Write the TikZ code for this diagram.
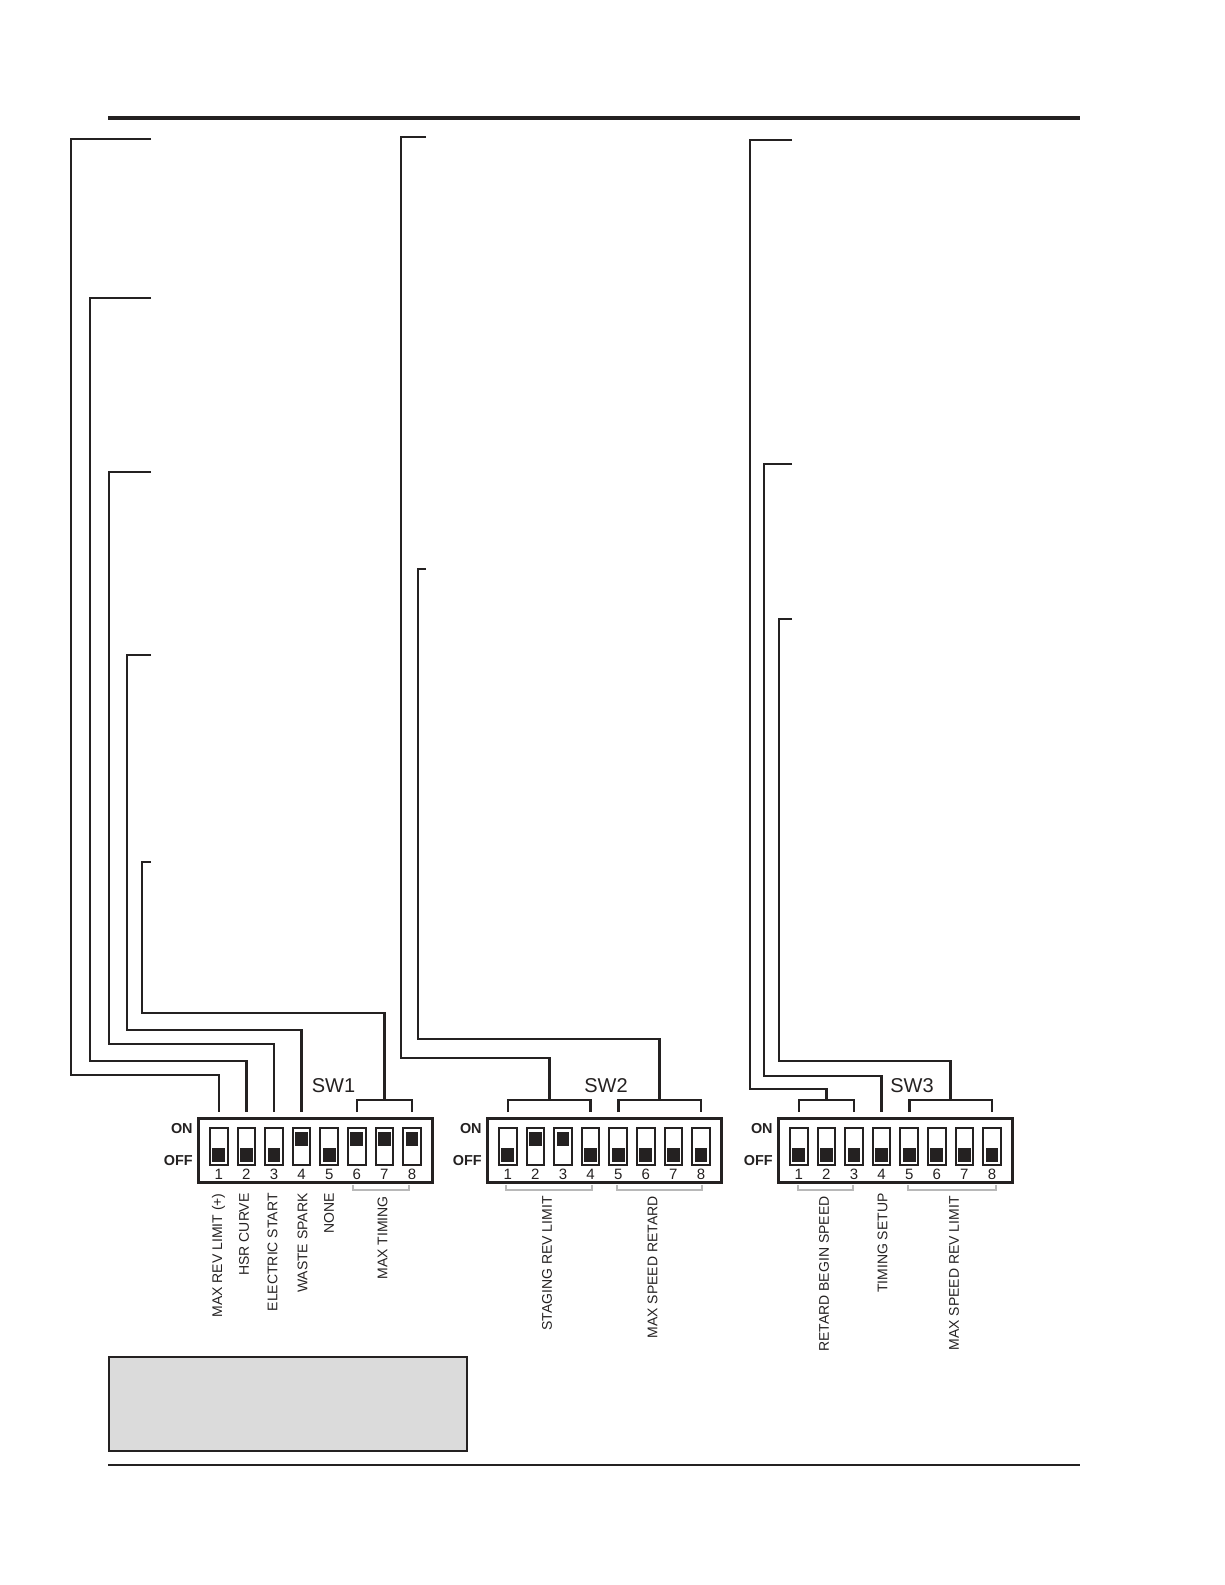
\documentclass[tikz,border=0pt]{standalone}
\usepackage{fontspec}
\setmainfont{Liberation Sans}
\definecolor{encre}{rgb}{0.14,0.13,0.13}
\definecolor{gris}{rgb}{0.86,0.86,0.86}
\definecolor{grismoyen}{rgb}{0.72,0.72,0.72}

\begin{document}
\begin{tikzpicture}[x=0.5pt, y=-0.5pt, line join=miter]
	\tikzstyle{lead}=[draw=encre, line width=1.3pt]
	\tikzstyle{dip}=[rectangle, draw=encre, line width=1.5pt, minimum width=117pt, minimum height=32pt, inner sep=0pt]
	\tikzstyle{slot}=[rectangle, draw=encre, line width=1pt, minimum width=8.75pt, minimum height=18.5pt, inner sep=0pt]
	\tikzstyle{swoff}=[slot, path picture={\fill[encre] ([xshift=-3.2pt,yshift=1.5pt]path picture bounding box.south) rectangle ++(6.4pt,7pt);}]
	\tikzstyle{swon}=[slot, path picture={\fill[encre] ([xshift=-3.2pt,yshift=-1.8pt]path picture bounding box.north) rectangle ++(6.4pt,-7pt);}]
	\tikzstyle{num}=[font=\fontsize{7.5}{8}\selectfont, inner sep=0pt, label distance=1.4pt, text=encre]
	\tikzstyle{lab}=[rotate=90, anchor=east, inner sep=0pt, font=\fontsize{7}{8}\selectfont, text=encre]
	\tikzstyle{onoff}=[anchor=east, inner sep=0pt, font=\fontsize{7.2}{8}\selectfont\bfseries, text=encre]
	\tikzstyle{swname}=[inner sep=0pt, font=\fontsize{10}{12}\selectfont, text=encre]
	\tikzstyle{under}=[draw=encre, line width=0.4pt, double=grismoyen, double distance=0.6pt]

	\useasboundingbox (0,0) rectangle (1225,1585);

	% CADRE
	\draw[encre, line width=2pt] (108,118) -- (1080,118);
	\draw[encre, line width=1.3pt] (108,1465) -- (1080,1465);
	\draw[encre, line width=1.4pt, fill=gris] (109,1357) rectangle (467,1451);

	% BOITIERS
	\node[dip] (D1) at (315.5,1150.5) {};
	\node[dip] (D2) at (604,1150.5) {};
	\node[dip] (D3) at (895,1150.5) {};
	\node[swname] (SW1) at (333.5,1086) {SW1};
	\node[swname] (SW2) at (606,1086) {SW2};
	\node[swname] (SW3) at (912,1086) {SW3};
	\node[onoff] (ON1) at (193,1129) {ON};
	\node[onoff] (OFF1) at (193,1161) {OFF};
	\node[onoff] (ON2) at (482,1129) {ON};
	\node[onoff] (OFF2) at (482,1161) {OFF};
	\node[onoff] (ON3) at (773,1129) {ON};
	\node[onoff] (OFF3) at (773,1161) {OFF};

	% INTERRUPTEURS SW1
	\node[swoff, label={[num]below:1}] (A1) at (218.8,1146.5) {};
	\node[swoff, label={[num]below:2}] (A2) at (246.4,1146.5) {};
	\node[swoff, label={[num]below:3}] (A3) at (274.0,1146.5) {};
	\node[swon, label={[num]below:4}] (A4) at (301.6,1146.5) {};
	\node[swoff, label={[num]below:5}] (A5) at (329.2,1146.5) {};
	\node[swon, label={[num]below:6}] (A6) at (356.8,1146.5) {};
	\node[swon, label={[num]below:7}] (A7) at (384.4,1146.5) {};
	\node[swon, label={[num]below:8}] (A8) at (412.0,1146.5) {};

	% INTERRUPTEURS SW2
	\node[swoff, label={[num]below:1}] (B1) at (507.8,1146.5) {};
	\node[swon, label={[num]below:2}] (B2) at (535.4,1146.5) {};
	\node[swon, label={[num]below:3}] (B3) at (563.0,1146.5) {};
	\node[swoff, label={[num]below:4}] (B4) at (590.6,1146.5) {};
	\node[swoff, label={[num]below:5}] (B5) at (618.2,1146.5) {};
	\node[swoff, label={[num]below:6}] (B6) at (645.8,1146.5) {};
	\node[swoff, label={[num]below:7}] (B7) at (673.4,1146.5) {};
	\node[swoff, label={[num]below:8}] (B8) at (701.0,1146.5) {};

	% INTERRUPTEURS SW3
	\node[swoff, label={[num]below:1}] (C1) at (798.8,1146.5) {};
	\node[swoff, label={[num]below:2}] (C2) at (826.4,1146.5) {};
	\node[swoff, label={[num]below:3}] (C3) at (854.0,1146.5) {};
	\node[swoff, label={[num]below:4}] (C4) at (881.6,1146.5) {};
	\node[swoff, label={[num]below:5}] (C5) at (909.2,1146.5) {};
	\node[swoff, label={[num]below:6}] (C6) at (936.8,1146.5) {};
	\node[swoff, label={[num]below:7}] (C7) at (964.4,1146.5) {};
	\node[swoff, label={[num]below:8}] (C8) at (992.0,1146.5) {};

	% ACCOLADES
	\coordinate (A7t) at (384.4,1100);
	\coordinate (B23t) at (549.2,1100);
	\coordinate (B67t) at (659.6,1100);
	\coordinate (C2t) at (826.4,1100);
	\coordinate (C67t) at (950.6,1100);
	\draw[lead] ([yshift=7.5pt]A6.north) |- (A7t) -| ([yshift=7.5pt]A8.north);
	\draw[lead] ([yshift=7.5pt]B1.north) |- (B23t) -| ([yshift=7.5pt]B4.north);
	\draw[lead] ([yshift=7.5pt]B5.north) |- (B67t) -| ([yshift=7.5pt]B8.north);
	\draw[lead] ([yshift=7.5pt]C1.north) |- (C2t) -| ([yshift=7.5pt]C3.north);
	\draw[lead] ([yshift=7.5pt]C5.north) |- (C67t) -| ([yshift=7.5pt]C8.north);

	\draw[under] (353,1185) |- (409,1190) -- (409,1185);
	\draw[under] (506,1185) |- (592,1190) -- (592,1185);
	\draw[under] (617,1185) |- (702,1190) -- (702,1185);
	\draw[under] (798,1185) |- (853,1190) -- (853,1185);
	\draw[under] (908,1185) |- (996,1190) -- (996,1185);

	% RENVOIS SW1
	\coordinate (T11) at (151,139);
	\coordinate (T12) at (151,298);
	\coordinate (T13) at (151,472);
	\coordinate (T14) at (151,655);
	\coordinate (T15) at (151,862);
	\draw[lead] (T11) -| (71,1075) -| ([yshift=7.5pt]A1.north);
	\draw[lead] (T12) -| (90,1061) -| ([yshift=7.5pt]A2.north);
	\draw[lead] (T13) -| (109,1044) -| ([yshift=7.5pt]A3.north);
	\draw[lead] (T14) -| (127,1030) -| ([yshift=7.5pt]A4.north);
	\draw[lead] (T15) -| (142,1013) -| (A7t);

	% RENVOIS SW2
	\coordinate (T21) at (426,137);
	\coordinate (T22) at (426,569);
	\draw[lead] (T21) -| (401,1058) -| (B23t);
	\draw[lead] (T22) -| (418,1039) -| (B67t);

	% RENVOIS SW3
	\coordinate (T31) at (792,140);
	\coordinate (T32) at (792,464);
	\coordinate (T33) at (792,619);
	\draw[lead] (T31) -| (750,1089) -| (C2t);
	\draw[lead] (T32) -| (764,1076) -| ([yshift=7.5pt]C4.north);
	\draw[lead] (T33) -| (779,1061) -| (C67t);

	% FONCTIONS
	\node[lab] (N1) at (218.5,1193) {MAX REV LIMIT (+)};
	\node[lab] (N2) at (244,1193) {HSR CURVE};
	\node[lab] (N3) at (272.5,1193) {ELECTRIC START};
	\node[lab] (N4) at (302.5,1193) {WASTE SPARK};
	\node[lab] (N5) at (329,1193) {NONE};
	\node[lab] (N6) at (382.5,1196) {MAX TIMING};
	\node[lab] (N7) at (547,1196) {STAGING REV LIMIT};
	\node[lab] (N8) at (652.5,1196) {MAX SPEED RETARD};
	\node[lab] (N9) at (824,1196) {RETARD BEGIN SPEED};
	\node[lab] (N10) at (882.5,1193) {TIMING SETUP};
	\node[lab] (N11) at (954,1196) {MAX SPEED REV LIMIT};
\end{tikzpicture}
\end{document}
